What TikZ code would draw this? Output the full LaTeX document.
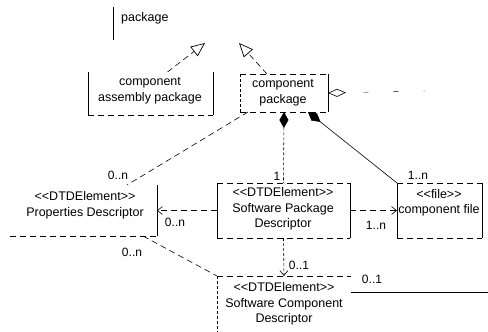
\documentclass[tikz,border=0pt]{standalone}
\usepackage{fontspec}
\setmainfont{Liberation Sans}
\usetikzlibrary{arrows.meta, positioning}

\tikzset{
  frame/.style={inner sep=0pt, outer sep=0pt},
  txt/.style={align=center, inner sep=0pt, font=\fontsize{12.5}{15.5}\selectfont},
  mult/.style={inner sep=0pt, font=\fontsize{12}{14}\selectfont},
  boxside/.style={line width=0.7pt},
  scan/.style={line width=0.6pt, dash pattern=on 6pt off 4pt},
  fine/.style={line width=0.6pt, dash pattern=on 3pt off 2pt},
  gen/.style={scan, -{Triangle[open, length=14pt, width=12pt, line width=0.7pt]}},
  dep/.style={scan, -{Straight Barb[length=5pt, width=8pt, line width=0.6pt]}},
  comp/.style={{Diamond[length=16pt, width=9pt]}-},
  agg/.style={{Diamond[open, length=18pt, width=8pt, line width=0.6pt]}-}
}

\begin{document}
\begin{tikzpicture}[x=1pt, y=-1pt]
\useasboundingbox (0,0) rectangle (488,332);

% element frames
\node[frame, anchor=north west, minimum width=132pt, minimum height=36pt] (pkg) at (113,7) {};
\node[frame, minimum width=125pt, minimum height=43pt] (cap) at (150.5,93.5) {};
\node[frame, minimum width=88pt, minimum height=38pt] (cp) at (284,93) {};
\node[frame, minimum width=147pt, minimum height=51pt] (prop) at (83.5,210.5) {};
\node[frame, minimum width=133pt, minimum height=55pt] (spd) at (283.5,210.5) {};
\node[frame, minimum width=85pt, minimum height=55pt] (cf) at (439.5,210.5) {};
\node[frame, minimum width=134pt, minimum height=56pt] (scd) at (284,304) {};

% element names
\node[txt, anchor=west] (pkgname) at (121,18) {package};
\node[txt] (capname) at (150,91) {component\\assembly package};
\node[txt] (cpname) at (283,93) {component\\package};
\node[txt] (propname) at (85,205.5) {<{}<DTDElement>{}>\\Properties Descriptor};
\node[txt] (spdname) at (283,209) {<{}<DTDElement>{}>\\Software Package\\Descriptor};
\node[txt] (cfname) at (439,203) {<{}<file>{}>\\component file};
\node[txt] (scdname) at (284,304) {<{}<DTDElement>{}>\\Software Component\\Descriptor};

% frame sides
\draw[boxside] (pkg.north west) -- ([yshift=3pt]pkg.south west);
\draw[boxside] (cap.north west) -- (cap.south west);
\draw[boxside] (cap.north east) -- (cap.south east);
\draw[scan] (cap.south west) -- (cap.south east);
\draw[scan] (cp.north west) -- (cp.north east);
\draw[fine] (cp.north west) -- (cp.south west);
\draw[boxside] (cp.north east) -- (cp.south east);
\draw[scan] (cp.south west) -- (cp.south east);
\draw[boxside] (prop.north east) -- (prop.south east);
\draw[scan] (prop.south west) -- (prop.south east);
\draw[boxside] (spd.north west) -- (spd.south west);
\draw[boxside] (spd.north east) -- (spd.south east);
\draw[scan] (spd.north west) -- (spd.north east);
\draw[scan] (spd.south west) -- (spd.south east);
\draw[boxside] (cf.north west) -- (cf.south west);
\draw[boxside] (cf.north east) -- (cf.south east);
\draw[scan] (cf.north west) -- (cf.north east);
\draw[scan] (cf.south west) -- (cf.south east);
\draw[scan] (scd.north west) -- (scd.north east);
\draw[fine] (scd.north west) -- (scd.south west);

% generalizations
\draw[gen] ([xshift=17pt]cap.north) -- ([xshift=26pt]pkg.south);
\draw[gen] ([xshift=-17pt]cp.north) -- ([xshift=60pt]pkg.south);

% aggregation and compositions
\coordinate (aggend) at (425,91);
\draw[agg, dash pattern=on 5pt off 25pt, dash phase=-18pt] (cp.east) -- (aggend);
\draw[comp, fine] (cp.south) -- (spd.north);
\draw[comp, line width=0.6pt] ([xshift=-20pt]cp.south east) -- (cf.north west);

% associations
\draw[scan] ([xshift=8pt]cp.south west) -- ([xshift=-30pt]prop.north east);
\draw[dep] (spd.west) -- (prop.east);
\draw[dep] (spd.east) -- (cf.west);
\draw[dep, fine] (spd.south) -- (scd.north);
\draw[scan] ([xshift=-14pt]prop.south east) -- (scd.north west);
\coordinate (scdend) at (488,292);
\draw[line width=0.6pt] ([yshift=12pt]scd.east) -- (scdend);

% multiplicities
\node[mult] (m1) at (118,175) {0..n};
\node[mult] (m2) at (277,176) {1};
\node[mult] (m3) at (418,175) {1..n};
\node[mult] (m4) at (175,222) {0..n};
\node[mult] (m5) at (376,225) {1..n};
\node[mult] (m6) at (132,252) {0..n};
\node[mult] (m7) at (299,265) {0..1};
\node[mult] (m8) at (372,279) {0..1};
\end{tikzpicture}
\end{document}
